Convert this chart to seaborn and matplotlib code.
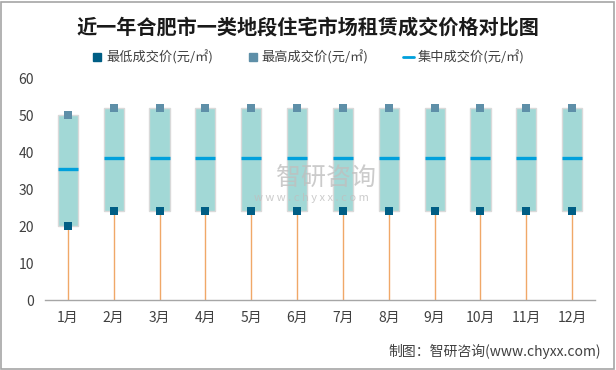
import matplotlib
matplotlib.use("Agg")
import matplotlib.pyplot as plt
import seaborn as sns
import pandas as pd
import numpy as np
from matplotlib.lines import Line2D
from matplotlib.patches import Rectangle

months = ["1月", "2月", "3月", "4月", "5月", "6月", "7月", "8月", "9月", "10月", "11月", "12月"]
min_price = [20, 24, 24, 24, 24, 24, 24, 24, 24, 24, 24, 24]
max_price = [50, 52, 52, 52, 52, 52, 52, 52, 52, 52, 52, 52]
mid_price = [35.3, 38.3, 38.3, 38.3, 38.3, 38.3, 38.3, 38.3, 38.3, 38.3, 38.3, 38.3]

title = "近一年合肥市一类地段住宅市场租赁成交价格对比图"
lab_min = "最低成交价(元/㎡)"
lab_max = "最高成交价(元/㎡)"
lab_mid = "集中成交价(元/㎡)"
source = "制图：智研咨询(www.chyxx.com)"

sns.set_theme(style="white")
plt.rcParams['font.family'] = ['Noto Sans CJK SC', 'DejaVu Sans']

df = pd.DataFrame({"month": months, "min": min_price, "max": max_price, "mid": mid_price})
df["span"] = df["max"] - df["min"]
xs = np.arange(len(months))

fig = plt.figure(figsize=(6.16, 3.70), dpi=100)
ax = fig.add_axes([0.073, 0.189, 0.893, 0.6])

# whiskers from 0 to min
ax.vlines(xs, 0, df["min"], color="#F0A868", lw=1.0, zorder=1)

# boxes
sns.barplot(data=df, x="month", y="span", bottom=df["min"], color="#A2D8D6",
            width=0.44, edgecolor="#D9D9D9", linewidth=1.0, saturation=1, ax=ax, zorder=2)

# mid line
ax.scatter(xs, df["mid"], marker="_", s=200, linewidths=2.4, color="#00A0DC", zorder=4)
# markers
ax.scatter(xs, df["min"], marker="s", s=40, color="#005E85", zorder=5, linewidths=0)
ax.scatter(xs, df["max"], marker="s", s=40, color="#5E8FA8", zorder=5, linewidths=0)

ax.set_ylim(0, 60)
ax.set_xlim(-0.5, len(months) - 0.5)
ax.set_yticks(range(0, 61, 10))
ax.set_xlabel("")
ax.set_ylabel("")
for s in ["left", "right", "top"]:
    ax.spines[s].set_visible(False)
ax.spines["bottom"].set_color("#A6A6A6")
ax.spines["bottom"].set_linewidth(1.0)
ax.tick_params(axis="both", length=0, labelsize=10, colors="#404040", pad=8)
ax.tick_params(axis="x", pad=8)

# watermark
fig.text(0.53, 0.52, "智研咨询", fontsize=18, color="#BFBFBF", alpha=0.8, ha="center", va="center")
fig.text(0.505, 0.465, "w w w . c h y x x . c o m", fontsize=8, color="#BFBFBF", alpha=0.8, ha="center", va="center")

fig.suptitle(title, y=0.955, fontsize=14.5, fontweight="bold", color="#1a1a1a")

handles = [
    Line2D([], [], marker="s", ls="none", color="#005E85", markersize=6),
    Line2D([], [], marker="s", ls="none", color="#5E8FA8", markersize=6),
    Line2D([], [], color="#00A0DC", lw=2),
]
fig.legend(handles, [lab_min, lab_max, lab_mid], loc="center", bbox_to_anchor=(0.5, 0.845),
           ncol=3, frameon=False, fontsize=9.5, handlelength=0.8, handletextpad=0.3,
           columnspacing=2.6, labelcolor="#404040")

fig.text(0.975, 0.05, source, ha="right", va="center", fontsize=10, color="#404040")

fig.add_artist(Rectangle((0.002, 0.003), 0.994, 0.992, transform=fig.transFigure,
                         fill=False, edgecolor="#A6A6A6", lw=1.2))

fig.savefig("out.png", dpi=100)
